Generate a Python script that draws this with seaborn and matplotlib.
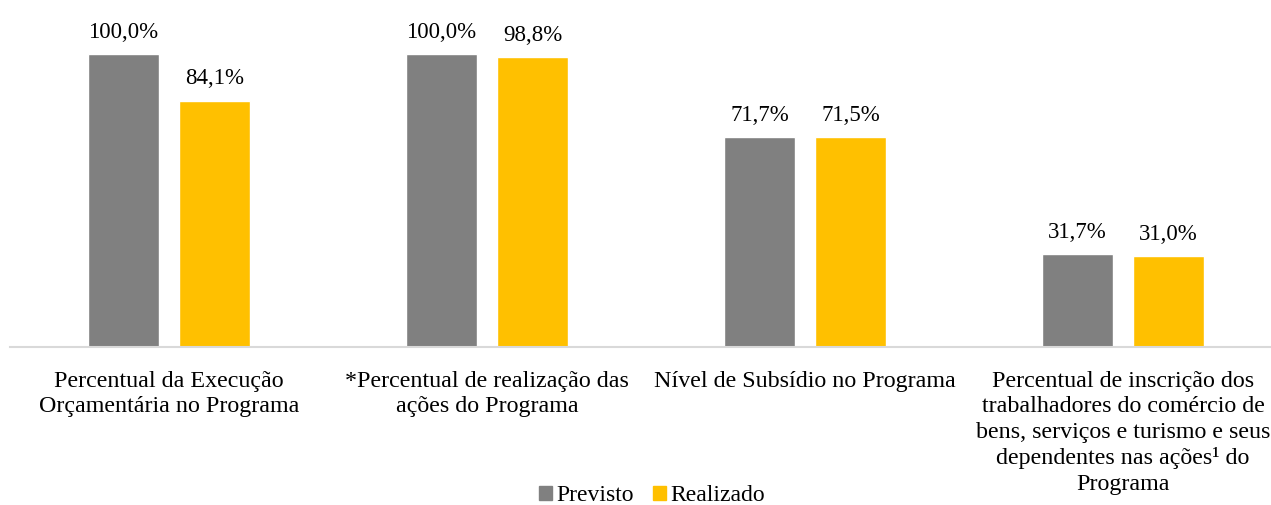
import matplotlib
matplotlib.use("Agg")
import matplotlib.pyplot as plt
import pandas as pd
import seaborn as sn

categories = [
    "Percentual da Execução\nOrçamentária no Programa",
    "*Percentual de realização das\nações do Programa",
    "Nível de Subsídio no Programa",
    "Percentual de inscrição dos\ntrabalhadores do comércio de\nbens, serviços e turismo e seus\ndependentes nas ações¹ do\nPrograma",
]
series = ["Previsto", "Realizado"]
previsto = [100.0, 100.0, 71.7, 31.7]
realizado = [84.1, 98.8, 71.5, 31.0]
colors = ["#808080", "#FFC000"]

if __name__ == '__main__':
    sn.set_style("white")
    plt.rcParams['font.family'] = ['Liberation Serif', 'DejaVu Serif']
    plt.rcParams['text.color'] = "black"
    plt.rcParams['xtick.color'] = "black"

    df = pd.DataFrame({
        "cat": categories * 2,
        "serie": [series[0]] * 4 + [series[1]] * 4,
        "valor": previsto + realizado,
    })

    fig = plt.figure(figsize=(12.71, 5.05), dpi=100)
    ax = fig.add_axes([10 / 1271, 158 / 505, 1260 / 1271, 337 / 505])
    sn.barplot(data=df, x="cat", y="valor", hue="serie", hue_order=series,
               palette=colors, width=0.572, gap=0.22, ax=ax, legend=False,
               saturation=1)

    for cont, vals in zip(ax.containers, [previsto, realizado]):
        ax.bar_label(cont, labels=[f"{v:.1f}%".replace(".", ",") for v in vals],
                     padding=8, fontsize=16.5, color="black")

    ax.set_xlim(-0.5, 3.462)
    ax.set_ylim(0, 115.0)
    ax.set_yticks([])
    ax.set_xlabel("")
    ax.set_ylabel("")
    for s in ["top", "right", "left"]:
        ax.spines[s].set_visible(False)
    ax.spines["bottom"].set_color("#D9D9D9")
    ax.spines["bottom"].set_linewidth(1.5)
    ax.tick_params(axis="x", length=0, pad=17, labelsize=17.3, labelcolor="black")
    for t in ax.get_xticklabels():
        t.set_linespacing(1.28)
        t.set_verticalalignment("top")
        t.set_family(['Liberation Serif', 'DejaVu Serif'])

    handles = [plt.Rectangle((0, 0), 1, 1, color=c) for c in colors]
    fig.legend(handles, series, loc="lower center", bbox_to_anchor=(652 / 1271, -0.045),
               ncol=2, frameon=False, fontsize=17, handlelength=0.55, handleheight=0.55,
               handletextpad=0.2, columnspacing=0.8)

    fig.savefig("out.png", dpi=100)
